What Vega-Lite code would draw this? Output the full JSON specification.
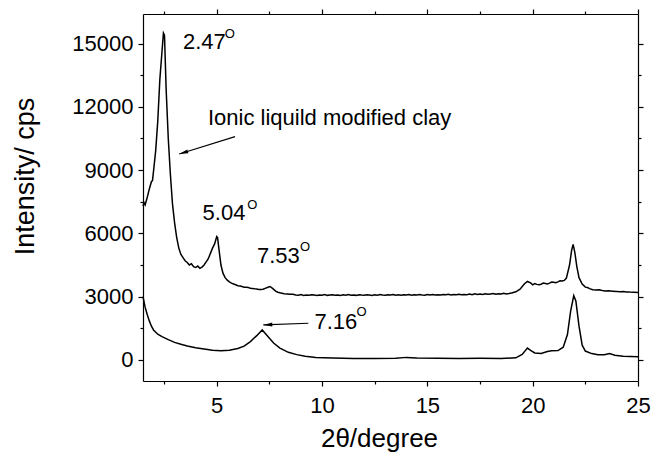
{
  "$schema": "https://vega.github.io/schema/vega-lite/v6.json",
  "width": 495,
  "height": 367,
  "autosize": {"type": "none"},
  "padding": {"left": 143, "top": 14, "right": 15, "bottom": 72},
  "background": "white",
  "config": {
    "font": "Liberation Sans",
    "view": {"stroke": null},
    "axis": {
      "domainColor": "black",
      "domainWidth": 1.2,
      "tickColor": "black",
      "tickWidth": 1.2,
      "labelColor": "black",
      "labelFontSize": 22,
      "labelFont": "Liberation Sans",
      "titleColor": "black",
      "titleFont": "Liberation Sans",
      "titleFontWeight": "normal",
      "grid": false,
      "labelOverlap": false,
      "labelFlush": false
    }
  },
  "datasets": {
    "xrd": [
      {"series": "modified", "x": 1.50, "y": 7300}, {"series": "modified", "x": 1.55, "y": 7450}, {"series": "modified", "x": 1.60, "y": 7350},
      {"series": "modified", "x": 1.70, "y": 7700}, {"series": "modified", "x": 1.80, "y": 8100}, {"series": "modified", "x": 1.90, "y": 8450},
      {"series": "modified", "x": 1.95, "y": 8500}, {"series": "modified", "x": 2.00, "y": 8950}, {"series": "modified", "x": 2.10, "y": 9900},
      {"series": "modified", "x": 2.20, "y": 11300}, {"series": "modified", "x": 2.30, "y": 13300}, {"series": "modified", "x": 2.40, "y": 14600},
      {"series": "modified", "x": 2.47, "y": 15500}, {"series": "modified", "x": 2.52, "y": 15400}, {"series": "modified", "x": 2.60, "y": 12800},
      {"series": "modified", "x": 2.70, "y": 10500}, {"series": "modified", "x": 2.80, "y": 8800}, {"series": "modified", "x": 2.90, "y": 7400},
      {"series": "modified", "x": 3.00, "y": 6500}, {"series": "modified", "x": 3.10, "y": 5800}, {"series": "modified", "x": 3.20, "y": 5300},
      {"series": "modified", "x": 3.30, "y": 5000}, {"series": "modified", "x": 3.40, "y": 4850}, {"series": "modified", "x": 3.50, "y": 4700},
      {"series": "modified", "x": 3.60, "y": 4620}, {"series": "modified", "x": 3.70, "y": 4500}, {"series": "modified", "x": 3.80, "y": 4560},
      {"series": "modified", "x": 3.90, "y": 4420}, {"series": "modified", "x": 4.00, "y": 4380}, {"series": "modified", "x": 4.10, "y": 4450},
      {"series": "modified", "x": 4.20, "y": 4340}, {"series": "modified", "x": 4.30, "y": 4400}, {"series": "modified", "x": 4.40, "y": 4500},
      {"series": "modified", "x": 4.50, "y": 4650}, {"series": "modified", "x": 4.60, "y": 4800}, {"series": "modified", "x": 4.70, "y": 5050},
      {"series": "modified", "x": 4.80, "y": 5300}, {"series": "modified", "x": 4.90, "y": 5500}, {"series": "modified", "x": 5.00, "y": 5850},
      {"series": "modified", "x": 5.04, "y": 5800}, {"series": "modified", "x": 5.10, "y": 5300}, {"series": "modified", "x": 5.20, "y": 4500},
      {"series": "modified", "x": 5.30, "y": 4100}, {"series": "modified", "x": 5.40, "y": 3900}, {"series": "modified", "x": 5.50, "y": 3780},
      {"series": "modified", "x": 5.60, "y": 3700}, {"series": "modified", "x": 5.70, "y": 3640}, {"series": "modified", "x": 5.80, "y": 3600},
      {"series": "modified", "x": 5.90, "y": 3560}, {"series": "modified", "x": 6.00, "y": 3520}, {"series": "modified", "x": 6.10, "y": 3500},
      {"series": "modified", "x": 6.20, "y": 3480}, {"series": "modified", "x": 6.30, "y": 3450}, {"series": "modified", "x": 6.40, "y": 3440},
      {"series": "modified", "x": 6.50, "y": 3430}, {"series": "modified", "x": 6.60, "y": 3400}, {"series": "modified", "x": 6.70, "y": 3385},
      {"series": "modified", "x": 6.80, "y": 3370}, {"series": "modified", "x": 6.90, "y": 3360}, {"series": "modified", "x": 7.00, "y": 3340},
      {"series": "modified", "x": 7.10, "y": 3335}, {"series": "modified", "x": 7.20, "y": 3350}, {"series": "modified", "x": 7.30, "y": 3390},
      {"series": "modified", "x": 7.40, "y": 3430}, {"series": "modified", "x": 7.53, "y": 3480}, {"series": "modified", "x": 7.65, "y": 3390},
      {"series": "modified", "x": 7.80, "y": 3260}, {"series": "modified", "x": 7.90, "y": 3210}, {"series": "modified", "x": 8.00, "y": 3180},
      {"series": "modified", "x": 8.10, "y": 3160}, {"series": "modified", "x": 8.20, "y": 3140}, {"series": "modified", "x": 8.35, "y": 3130},
      {"series": "modified", "x": 8.50, "y": 3110}, {"series": "modified", "x": 8.625, "y": 3110}, {"series": "modified", "x": 8.75, "y": 3080},
      {"series": "modified", "x": 8.875, "y": 3070}, {"series": "modified", "x": 9.00, "y": 3095}, {"series": "modified", "x": 9.125, "y": 3060},
      {"series": "modified", "x": 9.25, "y": 3080}, {"series": "modified", "x": 9.375, "y": 3065}, {"series": "modified", "x": 9.50, "y": 3090},
      {"series": "modified", "x": 9.625, "y": 3075}, {"series": "modified", "x": 9.75, "y": 3055}, {"series": "modified", "x": 9.875, "y": 3080},
      {"series": "modified", "x": 10.00, "y": 3070}, {"series": "modified", "x": 10.125, "y": 3095}, {"series": "modified", "x": 10.25, "y": 3060},
      {"series": "modified", "x": 10.375, "y": 3075}, {"series": "modified", "x": 10.50, "y": 3090}, {"series": "modified", "x": 10.625, "y": 3065},
      {"series": "modified", "x": 10.75, "y": 3080}, {"series": "modified", "x": 10.875, "y": 3060}, {"series": "modified", "x": 11.00, "y": 3085},
      {"series": "modified", "x": 11.125, "y": 3070}, {"series": "modified", "x": 11.25, "y": 3095}, {"series": "modified", "x": 11.375, "y": 3065},
      {"series": "modified", "x": 11.50, "y": 3075}, {"series": "modified", "x": 11.625, "y": 3060}, {"series": "modified", "x": 11.75, "y": 3090},
      {"series": "modified", "x": 11.875, "y": 3075}, {"series": "modified", "x": 12.00, "y": 3065}, {"series": "modified", "x": 12.125, "y": 3090},
      {"series": "modified", "x": 12.25, "y": 3080}, {"series": "modified", "x": 12.375, "y": 3060}, {"series": "modified", "x": 12.50, "y": 3085},
      {"series": "modified", "x": 12.625, "y": 3070}, {"series": "modified", "x": 12.75, "y": 3095}, {"series": "modified", "x": 12.875, "y": 3075},
      {"series": "modified", "x": 13.00, "y": 3065}, {"series": "modified", "x": 13.125, "y": 3090}, {"series": "modified", "x": 13.25, "y": 3080},
      {"series": "modified", "x": 13.375, "y": 3100}, {"series": "modified", "x": 13.50, "y": 3070}, {"series": "modified", "x": 13.625, "y": 3085},
      {"series": "modified", "x": 13.75, "y": 3065}, {"series": "modified", "x": 13.875, "y": 3090}, {"series": "modified", "x": 14.00, "y": 3080},
      {"series": "modified", "x": 14.125, "y": 3100}, {"series": "modified", "x": 14.25, "y": 3070}, {"series": "modified", "x": 14.375, "y": 3085},
      {"series": "modified", "x": 14.50, "y": 3075}, {"series": "modified", "x": 14.625, "y": 3095}, {"series": "modified", "x": 14.75, "y": 3080},
      {"series": "modified", "x": 14.875, "y": 3070}, {"series": "modified", "x": 15.00, "y": 3095}, {"series": "modified", "x": 15.125, "y": 3080},
      {"series": "modified", "x": 15.25, "y": 3105}, {"series": "modified", "x": 15.375, "y": 3075}, {"series": "modified", "x": 15.50, "y": 3090},
      {"series": "modified", "x": 15.625, "y": 3080}, {"series": "modified", "x": 15.75, "y": 3100}, {"series": "modified", "x": 15.875, "y": 3085},
      {"series": "modified", "x": 16.00, "y": 3110}, {"series": "modified", "x": 16.125, "y": 3080}, {"series": "modified", "x": 16.25, "y": 3100},
      {"series": "modified", "x": 16.375, "y": 3090}, {"series": "modified", "x": 16.50, "y": 3115}, {"series": "modified", "x": 16.625, "y": 3085},
      {"series": "modified", "x": 16.75, "y": 3105}, {"series": "modified", "x": 16.875, "y": 3095}, {"series": "modified", "x": 17.00, "y": 3120},
      {"series": "modified", "x": 17.125, "y": 3090}, {"series": "modified", "x": 17.25, "y": 3135}, {"series": "modified", "x": 17.375, "y": 3105},
      {"series": "modified", "x": 17.50, "y": 3120}, {"series": "modified", "x": 17.625, "y": 3100}, {"series": "modified", "x": 17.75, "y": 3140},
      {"series": "modified", "x": 17.875, "y": 3110}, {"series": "modified", "x": 18.00, "y": 3130}, {"series": "modified", "x": 18.125, "y": 3150},
      {"series": "modified", "x": 18.25, "y": 3115}, {"series": "modified", "x": 18.375, "y": 3140}, {"series": "modified", "x": 18.50, "y": 3125},
      {"series": "modified", "x": 18.625, "y": 3160}, {"series": "modified", "x": 18.75, "y": 3130}, {"series": "modified", "x": 18.875, "y": 3150},
      {"series": "modified", "x": 19.00, "y": 3175}, {"series": "modified", "x": 19.20, "y": 3230}, {"series": "modified", "x": 19.40, "y": 3350},
      {"series": "modified", "x": 19.60, "y": 3600}, {"series": "modified", "x": 19.75, "y": 3720}, {"series": "modified", "x": 19.90, "y": 3650},
      {"series": "modified", "x": 20.00, "y": 3560}, {"series": "modified", "x": 20.10, "y": 3620}, {"series": "modified", "x": 20.20, "y": 3580},
      {"series": "modified", "x": 20.30, "y": 3560}, {"series": "modified", "x": 20.40, "y": 3590}, {"series": "modified", "x": 20.50, "y": 3640},
      {"series": "modified", "x": 20.60, "y": 3620}, {"series": "modified", "x": 20.70, "y": 3600}, {"series": "modified", "x": 20.80, "y": 3640},
      {"series": "modified", "x": 20.90, "y": 3690}, {"series": "modified", "x": 21.00, "y": 3680}, {"series": "modified", "x": 21.10, "y": 3660},
      {"series": "modified", "x": 21.20, "y": 3700}, {"series": "modified", "x": 21.30, "y": 3750}, {"series": "modified", "x": 21.40, "y": 3740},
      {"series": "modified", "x": 21.50, "y": 3770}, {"series": "modified", "x": 21.60, "y": 3880}, {"series": "modified", "x": 21.75, "y": 4500},
      {"series": "modified", "x": 21.85, "y": 5200}, {"series": "modified", "x": 21.92, "y": 5480}, {"series": "modified", "x": 22.00, "y": 5100},
      {"series": "modified", "x": 22.10, "y": 4400}, {"series": "modified", "x": 22.20, "y": 3900}, {"series": "modified", "x": 22.35, "y": 3600},
      {"series": "modified", "x": 22.50, "y": 3450}, {"series": "modified", "x": 22.60, "y": 3430}, {"series": "modified", "x": 22.70, "y": 3380},
      {"series": "modified", "x": 22.85, "y": 3330}, {"series": "modified", "x": 23.00, "y": 3320}, {"series": "modified", "x": 23.15, "y": 3330},
      {"series": "modified", "x": 23.30, "y": 3290}, {"series": "modified", "x": 23.45, "y": 3270}, {"series": "modified", "x": 23.60, "y": 3275},
      {"series": "modified", "x": 23.80, "y": 3260}, {"series": "modified", "x": 24.00, "y": 3245}, {"series": "modified", "x": 24.15, "y": 3230},
      {"series": "modified", "x": 24.30, "y": 3240}, {"series": "modified", "x": 24.45, "y": 3225}, {"series": "modified", "x": 24.60, "y": 3215},
      {"series": "modified", "x": 24.80, "y": 3210}, {"series": "modified", "x": 25.00, "y": 3200},
      {"series": "clay", "x": 1.50, "y": 3000}, {"series": "clay", "x": 1.60, "y": 2500}, {"series": "clay", "x": 1.70, "y": 2150},
      {"series": "clay", "x": 1.80, "y": 1850}, {"series": "clay", "x": 1.90, "y": 1600}, {"series": "clay", "x": 2.00, "y": 1420},
      {"series": "clay", "x": 2.20, "y": 1220}, {"series": "clay", "x": 2.40, "y": 1100}, {"series": "clay", "x": 2.70, "y": 960},
      {"series": "clay", "x": 3.00, "y": 830}, {"series": "clay", "x": 3.30, "y": 740}, {"series": "clay", "x": 3.60, "y": 660},
      {"series": "clay", "x": 4.00, "y": 580}, {"series": "clay", "x": 4.40, "y": 520}, {"series": "clay", "x": 4.80, "y": 460},
      {"series": "clay", "x": 5.20, "y": 440}, {"series": "clay", "x": 5.60, "y": 460}, {"series": "clay", "x": 6.00, "y": 540},
      {"series": "clay", "x": 6.30, "y": 650}, {"series": "clay", "x": 6.60, "y": 870}, {"series": "clay", "x": 6.90, "y": 1150},
      {"series": "clay", "x": 7.16, "y": 1420}, {"series": "clay", "x": 7.40, "y": 1150}, {"series": "clay", "x": 7.70, "y": 800},
      {"series": "clay", "x": 8.00, "y": 560}, {"series": "clay", "x": 8.40, "y": 360}, {"series": "clay", "x": 8.80, "y": 250},
      {"series": "clay", "x": 9.20, "y": 170}, {"series": "clay", "x": 9.70, "y": 120}, {"series": "clay", "x": 10.50, "y": 90},
      {"series": "clay", "x": 11.50, "y": 70}, {"series": "clay", "x": 12.50, "y": 70}, {"series": "clay", "x": 13.50, "y": 80},
      {"series": "clay", "x": 14.00, "y": 120}, {"series": "clay", "x": 14.50, "y": 90}, {"series": "clay", "x": 15.50, "y": 80},
      {"series": "clay", "x": 16.50, "y": 70}, {"series": "clay", "x": 17.50, "y": 80}, {"series": "clay", "x": 18.50, "y": 70},
      {"series": "clay", "x": 19.20, "y": 100}, {"series": "clay", "x": 19.50, "y": 260}, {"series": "clay", "x": 19.75, "y": 560},
      {"series": "clay", "x": 19.90, "y": 450}, {"series": "clay", "x": 20.10, "y": 330}, {"series": "clay", "x": 20.40, "y": 300},
      {"series": "clay", "x": 20.70, "y": 400}, {"series": "clay", "x": 20.90, "y": 430}, {"series": "clay", "x": 21.20, "y": 440},
      {"series": "clay", "x": 21.45, "y": 600}, {"series": "clay", "x": 21.65, "y": 1200}, {"series": "clay", "x": 21.80, "y": 2300},
      {"series": "clay", "x": 21.95, "y": 3050}, {"series": "clay", "x": 22.05, "y": 2800}, {"series": "clay", "x": 22.20, "y": 1600},
      {"series": "clay", "x": 22.35, "y": 700}, {"series": "clay", "x": 22.50, "y": 420}, {"series": "clay", "x": 22.80, "y": 300},
      {"series": "clay", "x": 23.10, "y": 250}, {"series": "clay", "x": 23.40, "y": 240}, {"series": "clay", "x": 23.65, "y": 300},
      {"series": "clay", "x": 23.90, "y": 220}, {"series": "clay", "x": 24.30, "y": 170}, {"series": "clay", "x": 25.00, "y": 150}
    ],
    "labels": [
      {"x": 3.4, "y": 15070, "text": "2.47"},
      {"x": 4.585, "y": 11470, "text": "Ionic liquild modified clay"},
      {"x": 4.33, "y": 6970, "text": "5.04"},
      {"x": 6.91, "y": 4940, "text": "7.53"},
      {"x": 9.64, "y": 1800, "text": "7.16"}
    ],
    "sups": [
      {"x": 5.38, "y": 15450, "text": "O"},
      {"x": 6.45, "y": 7330, "text": "O"},
      {"x": 8.95, "y": 5340, "text": "O"},
      {"x": 11.64, "y": 2260, "text": "O"}
    ],
    "arrows": [
      {"id": 1, "x": 5.87, "y": 10585, "x2": 3.22, "y2": 9765},
      {"id": 2, "x": 9.35, "y": 1740, "x2": 7.21, "y2": 1660}
    ]
  },
  "layer": [
    {
      "data": {"name": "xrd"},
      "mark": {"type": "line", "color": "black", "strokeWidth": 1.5},
      "encoding": {
        "x": {
          "field": "x", "type": "quantitative",
          "scale": {"domain": [1.5, 25], "nice": false, "zero": false},
          "axis": {
            "orient": "bottom",
            "values": [2.5, 5, 7.5, 10, 12.5, 15, 17.5, 20, 22.5, 25],
            "labelExpr": "datum.value % 5 === 0 ? datum.label : ''",
            "tickSize": {"condition": {"test": "datum.value % 5 === 0", "value": 5}, "value": 3},
            "labelPadding": 9,
            "title": "2θ/degree",
            "titleFontSize": 26,
            "titleX": 236,
            "titleY": 65,
            "titleAlign": "center",
            "titleBaseline": "alphabetic",
            "titleAnchor": null
          }
        },
        "y": {
          "field": "y", "type": "quantitative",
          "scale": {"domain": [-1000, 16400], "nice": false, "zero": false},
          "axis": {
            "orient": "left",
            "values": [0, 1500, 3000, 4500, 6000, 7500, 9000, 10500, 12000, 13500, 15000],
            "format": "d",
            "labelExpr": "datum.value % 3000 === 0 ? datum.label : ''",
            "tickSize": {"condition": {"test": "datum.value % 3000 === 0", "value": 5}, "value": 3},
            "labelPadding": 5,
            "title": "Intensity/ cps",
            "titleFontSize": 27,
            "titleAngle": 270,
            "titleX": -110,
            "titleY": 162,
            "titleAlign": "center",
            "titleBaseline": "alphabetic",
            "titleAnchor": null
          }
        },
        "detail": {"field": "series", "type": "nominal"}
      }
    },
    {
      "data": {"name": "arrows"},
      "mark": {"type": "rule", "color": "black", "strokeWidth": 1.1},
      "encoding": {
        "x": {
          "field": "x", "type": "quantitative",
          "axis": {
            "orient": "top",
            "values": [2.5, 5, 7.5, 10, 12.5, 15, 17.5, 20, 22.5, 25],
            "labels": false,
            "tickSize": {"condition": {"test": "datum.value % 5 === 0", "value": 5}, "value": 3},
            "title": null
          }
        },
        "y": {
          "field": "y", "type": "quantitative",
          "axis": {
            "orient": "right",
            "values": [0, 1500, 3000, 4500, 6000, 7500, 9000, 10500, 12000, 13500, 15000],
            "labels": false,
            "tickSize": {"condition": {"test": "datum.value % 3000 === 0", "value": 5}, "value": 3},
            "title": null
          }
        },
        "x2": {"field": "x2"},
        "y2": {"field": "y2"}
      }
    },
    {
      "data": {"name": "arrows"},
      "transform": [{"filter": "datum.id === 1"}],
      "mark": {"type": "point", "filled": true, "color": "black", "opacity": 1, "shape": "M 0 0 L 2 -0.45 L 2 0.45 Z", "size": 81, "angle": 343},
      "encoding": {
        "x": {"field": "x2", "type": "quantitative", "axis": null},
        "y": {"field": "y2", "type": "quantitative", "axis": null}
      }
    },
    {
      "data": {"name": "arrows"},
      "transform": [{"filter": "datum.id === 2"}],
      "mark": {"type": "point", "filled": true, "color": "black", "opacity": 1, "shape": "M 0 0 L 2 -0.45 L 2 0.45 Z", "size": 81, "angle": 358},
      "encoding": {
        "x": {"field": "x2", "type": "quantitative", "axis": null},
        "y": {"field": "y2", "type": "quantitative", "axis": null}
      }
    },
    {
      "data": {"name": "labels"},
      "mark": {"type": "text", "align": "left", "baseline": "middle", "fontSize": 22, "color": "black", "font": "Liberation Sans"},
      "encoding": {
        "x": {"field": "x", "type": "quantitative", "axis": null},
        "y": {"field": "y", "type": "quantitative", "axis": null},
        "text": {"field": "text"}
      }
    },
    {
      "data": {"name": "sups"},
      "mark": {"type": "text", "align": "left", "baseline": "middle", "fontSize": 13, "color": "black", "font": "Liberation Sans"},
      "encoding": {
        "x": {"field": "x", "type": "quantitative", "axis": null},
        "y": {"field": "y", "type": "quantitative", "axis": null},
        "text": {"field": "text"}
      }
    }
  ],
  "resolve": {"axis": {"x": "independent", "y": "independent"}}
}
